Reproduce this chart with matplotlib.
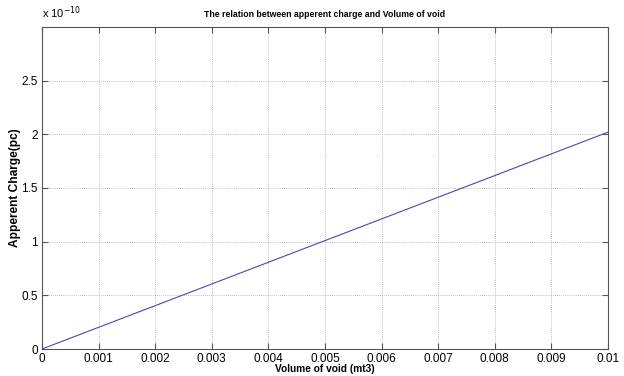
import matplotlib
matplotlib.use("Agg")
import matplotlib.pyplot as plt

plt.rcParams['font.family'] = ['Liberation Sans', 'DejaVu Sans']

volume = [0.0, 0.01]
charge = [0.0, 2.02e-10]
xticks = [0, 0.001, 0.002, 0.003, 0.004, 0.005, 0.006, 0.007, 0.008, 0.009, 0.01]
xticklabels = ['0', '0.001', '0.002', '0.003', '0.004', '0.005', '0.006', '0.007', '0.008', '0.009', '0.01']
yticks = [0, 0.5e-10, 1e-10, 1.5e-10, 2e-10, 2.5e-10]
yticklabels = ['0', '0.5', '1', '1.5', '2', '2.5']

fig = plt.figure(figsize=(6.24, 3.76), dpi=100)
ax = fig.add_axes([42/624, 1-349/376, (608-42)/624, (349-27)/376])
ax.plot(volume, charge, color='#4848b0', linewidth=0.8)
ax.set_xlim(0, 0.01)
ax.set_ylim(0, 3e-10)
ax.set_xticks(xticks)
ax.set_xticklabels(xticklabels)
ax.set_yticks(yticks)
ax.set_yticklabels(yticklabels)
ax.tick_params(direction='in', top=True, right=True, labelsize=8.5, length=4, color='#555555', pad=3)
ax.grid(True, linestyle=(0, (1, 1.5)), color='#aaaaaa', linewidth=0.6)
for s in ax.spines.values():
    s.set_color('#555555')
    s.set_linewidth(0.8)
ax.set_title('The relation between apperent charge and Volume of void', fontsize=6.3, fontweight='bold', pad=7)
ax.set_xlabel('Volume of void (mt3)', fontsize=7.3, fontweight='bold', labelpad=-1)
ax.set_ylabel('Apperent Charge(pc)', fontsize=8.6, fontweight='bold', va='center')
ax.yaxis.set_label_coords(-0.048, 0.5)
ax.text(0.0, 1.02, 'x 10$^{-10}$', transform=ax.transAxes, fontsize=8, ha='left', va='bottom')
fig.savefig('out.png', dpi=100)
